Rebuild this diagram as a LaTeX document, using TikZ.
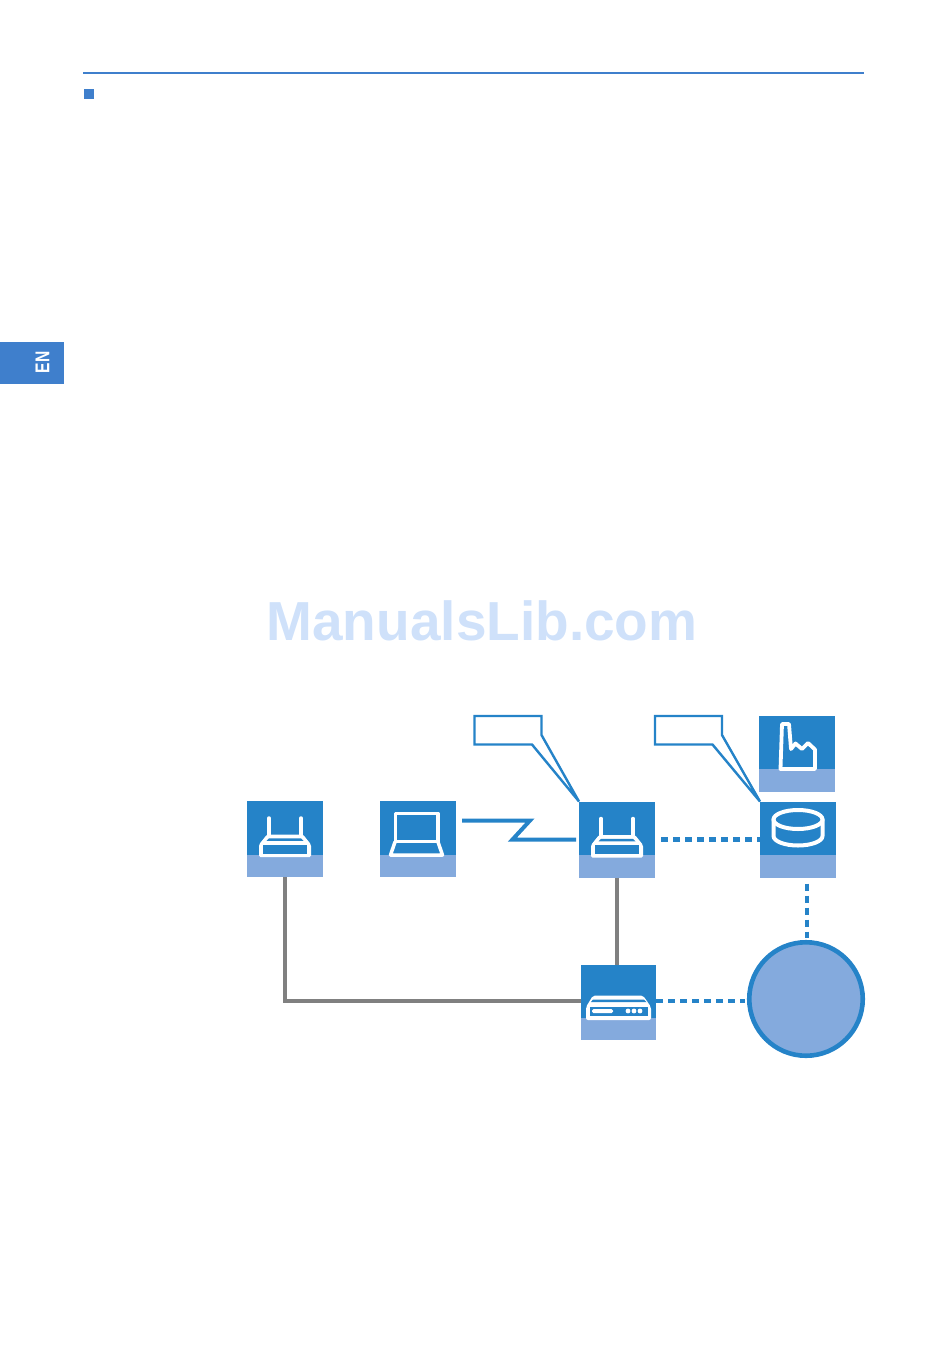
\documentclass[tikz,border=0pt]{standalone}
\usepackage{fontspec}
\setmainfont{Liberation Sans}
\definecolor{tiledark}{HTML}{2583C8}
\definecolor{tilelight}{HTML}{84AADD}
\definecolor{pageblue}{HTML}{3F7FCC}
\definecolor{wire}{HTML}{808080}
\definecolor{mark}{HTML}{CFE1FA}
\tikzset{
  tile/.style={rectangle,inner sep=0pt,outer sep=0pt,minimum width=76pt,minimum height=76pt,fill=tilelight,
    path picture={\fill[tiledark] (path picture bounding box.north west) rectangle ([yshift=#1]path picture bounding box.south east);}},
  tile/.default=22pt,
  glyph/.style={draw=white,line width=3.5pt,line join=round,line cap=round},
  wired/.style={draw=wire,line width=4pt},
  dotlink/.style={draw=tiledark,line width=4.4pt,dash pattern=on 7pt off 5pt},
  airlink/.style={draw=tiledark,line width=4pt,line join=miter},
  callout/.style={draw=tiledark,line width=2.4pt,fill=white,line join=miter}
}
\newcommand{\routerglyph}[1]{%
  \begin{scope}[shift={(#1.north west)}]
    \draw[glyph] (22,17) -- (22,36) (54,17) -- (54,36);
    \fill[white,rounded corners=1.5pt] (12,43.5) -- (20,33.5) -- (56,33.5) -- (64,43.5) -- (64,56) -- (12,56) -- cycle;
    \fill[tiledark] (22,37.3) -- (54,37.3) -- (56.5,39.8) -- (19.5,39.8) -- cycle;
    \fill[tiledark] (16,43.5) rectangle (60,52.5);
  \end{scope}}
\begin{document}
\begin{tikzpicture}[x=1pt,y=-1pt]
\useasboundingbox (0,0) rectangle (950,1351);
% page furniture
\draw[pageblue,line width=2.4pt] (83,73) -- (864,73);
\fill[pageblue] (84,89) rectangle (94,99);
\node[rectangle,fill=pageblue,minimum width=64pt,minimum height=42pt,inner sep=0pt,outer sep=0pt] (tab) at (32,363) {};
\node[rotate=90,text=white,inner sep=0pt,font=\bfseries\fontsize{20}{20}\selectfont,xscale=0.78] (lang) at (42.5,362.5) {EN};
\node[text=mark,inner sep=0pt,font=\bfseries\fontsize{55}{55}\selectfont,anchor=base] (wm) at (482,640) {ManualsLib.com};
% tiles
\node[tile] (r1) at (285,839) {};
\node[tile] (lap) at (418,839) {};
\node[tile=23pt] (r2) at (617,839.5) {};
\node[tile=23pt] (fac) at (797,754) {};
\node[tile=22.5pt] (db) at (798,839.5) {};
\node[tile,minimum width=75pt,minimum height=75pt] (modem) at (618.5,1002.5) {};
\node[circle,draw=tiledark,fill=tilelight,line width=4.6pt,minimum size=113.5pt,inner sep=0pt,outer sep=2.3pt] (cloud) at (806,999) {};
\coordinate (bus) at (0,1001);
% callouts
\draw[callout] (474.5,716) -- (541.5,716) -- (541.5,735) -- (r2.north west) -- (532,744.5) -- (474.5,744.5) -- cycle;
\draw[callout] (655,716) -- (722,716) -- (722,735) -- (db.north west) -- (712.5,744.5) -- (655,744.5) -- cycle;
% connectors
\draw[wired] (r1.south) |- (modem.west |- bus);
\draw[wired] (r2.south) -- (r2.south |- modem.north);
\draw[dotlink,shorten <=6pt] (r2.east) -- (db.west);
\draw[dotlink,shorten <=6pt,shorten >=2pt] ([xshift=1pt]cloud.north |- db.south) -- ([xshift=1pt]cloud.north);
\draw[dotlink,shorten >=2pt] (modem.east |- bus) -- (cloud.west |- bus);
\draw[airlink] ([xshift=6pt,yshift=18.5pt]lap.east) -- ++(68,0) -- ++(-17.5,19) -- ([xshift=-3pt]r2.west);
% glyphs
\routerglyph{r1}
\routerglyph{r2}
\begin{scope}[shift={(lap.north west)}]
  \draw[glyph] (15.5,40.5) -- (15.5,12.5) -- (58,12.5) -- (58,40.5) -- cycle;
  \draw[glyph] (15,41) -- (10.5,54) -- (62.5,54) -- (58,41);
\end{scope}
\begin{scope}[shift={(fac.north west)}]
  \draw[glyph,line width=3.8pt] (21.5,53) -- (23,8) -- (30,8) -- (32,33) -- (36.5,27.5) -- (43,33) -- (49,27) -- (56,33.5) -- (56,53) -- cycle;
\end{scope}
\begin{scope}[shift={(db.north west)}]
  \draw[glyph,line width=4pt] (38,18) ellipse [x radius=24.5,y radius=9.5];
  \draw[glyph,line width=4pt] (13.5,18) -- (13.5,34.5) arc[start angle=180,end angle=0,x radius=24.5,y radius=9.5] -- (62.5,18);
\end{scope}
\begin{scope}[shift={(modem.north west)}]
  \fill[white,rounded corners=2pt] (5,42) -- (12,30.5) -- (62,30.5) -- (70,42) -- (70,55) -- (5,55) -- cycle;
  \fill[tiledark] (12,34.5) -- (63,34.5) -- (65.5,37) -- (10,37) -- cycle;
  \fill[tiledark] (8.5,41.5) rectangle (67,51);
  \fill[white,rounded corners=1.5pt] (11,44) rectangle (32,48);
  \foreach \dx in {47,53,59} \fill[white] (\dx,46) circle (2.4);
\end{scope}
\end{tikzpicture}
\end{document}
